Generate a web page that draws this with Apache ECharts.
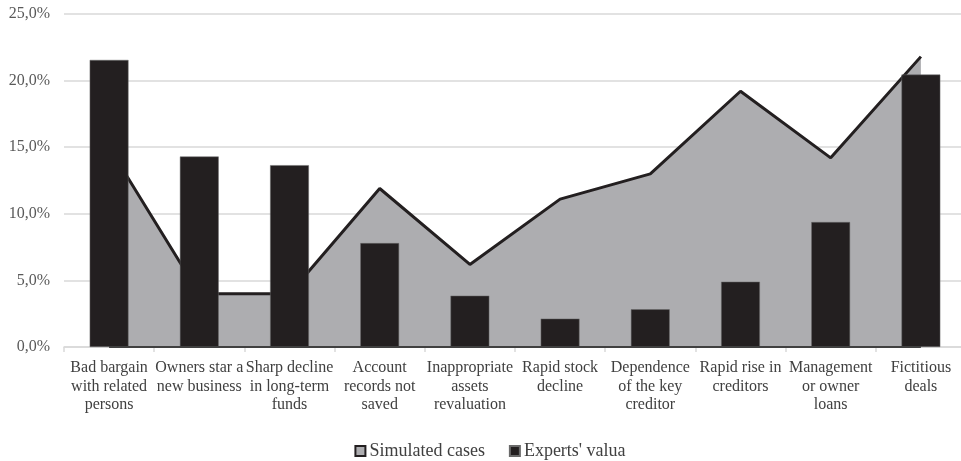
<!DOCTYPE html>
<html>
<head>
<meta charset="utf-8">
<script src="https://cdn.jsdelivr.net/npm/echarts@6/dist/echarts.min.js"></script>
<style>
html,body{margin:0;padding:0;background:#fff;overflow:hidden;}
#chart{width:980px;height:461px;}
</style>
</head>
<body>
<div id="chart"></div>
<script>
const categories = [
  "Bad bargain\nwith related\npersons",
  "Owners star a\nnew business",
  "Sharp decline\nin long-term\nfunds",
  "Account\nrecords not\nsaved",
  "Inappropriate\nassets\nrevaluation",
  "Rapid stock\ndecline",
  "Dependence\nof the key\ncreditor",
  "Rapid rise in\ncreditors",
  "Management\nor owner\nloans",
  "Fictitious\ndeals"
];
const simulatedCases = [15.0, 4.0, 4.0, 11.9, 6.2, 11.1, 13.0, 19.2, 14.2, 21.8];
const expertsValue = [21.55, 14.3, 13.65, 7.8, 3.85, 2.13, 2.83, 4.9, 9.38, 20.45];
const yTicks = { min: 0, max: 25, interval: 5 };

const font = "'Liberation Serif', 'Times New Roman', serif";
const chart = echarts.init(document.getElementById('chart'));
chart.setOption({
  animation: false,
  textStyle: { fontFamily: font },
  grid: { left: 64, top: 14, right: 14, height: 333 },
  legend: {
    top: 437,
    left: 'center',
    itemWidth: 10,
    itemHeight: 10,
    itemGap: 24,
    textStyle: { fontFamily: font, fontSize: 18, color: '#404040', padding: [0, 0, 0, -1] },
    data: [
      { name: 'Simulated cases', icon: 'rect', itemStyle: { color: '#adadb0', borderColor: '#231f20', borderWidth: 2 } },
      { name: "Experts' valua", icon: 'rect', itemStyle: { color: '#231f20' } }
    ]
  },
  xAxis: {
    type: 'category',
    data: categories,
    boundaryGap: true,
    axisLine: { lineStyle: { color: '#d9d9d9', width: 1.5 } },
    axisTick: { show: true, length: 5, lineStyle: { color: '#d9d9d9', width: 1.5 } },
    axisLabel: { interval: 0, margin: 12, fontFamily: font, fontSize: 16, color: '#404040', lineHeight: 18.5 }
  },
  yAxis: {
    type: 'value',
    min: yTicks.min,
    max: yTicks.max,
    interval: yTicks.interval,
    axisLine: { show: false },
    axisTick: { show: false },
    splitLine: { lineStyle: { color: '#d9d9d9', width: 1.5 } },
    axisLabel: {
      margin: 14,
      fontFamily: font, fontSize: 16, color: '#595959',
      formatter: v => v.toFixed(1).replace('.', ',') + '%'
    }
  },
  series: [
    {
      name: 'Simulated cases',
      type: 'line',
      data: simulatedCases,
      symbol: 'none',
      z: 1,
      lineStyle: { color: '#231f20', width: 3 },
      itemStyle: { color: '#adadb0' },
      areaStyle: { color: '#adadb0', opacity: 1 },
      markLine: {
        silent: true,
        symbol: 'none',
        label: { show: false },
        lineStyle: { color: '#404040', width: 2, type: 'solid' },
        data: [[{ coord: [0, 0] }, { coord: [categories.length - 1, 0] }]]
      }
    },
    {
      name: "Experts' valua",
      type: 'bar',
      data: expertsValue,
      barWidth: '43%',
      z: 3,
      itemStyle: { color: '#231f20', borderColor: '#6a6a6a', borderWidth: 0.5 }
    }
  ]
});
</script>
</body>
</html>
